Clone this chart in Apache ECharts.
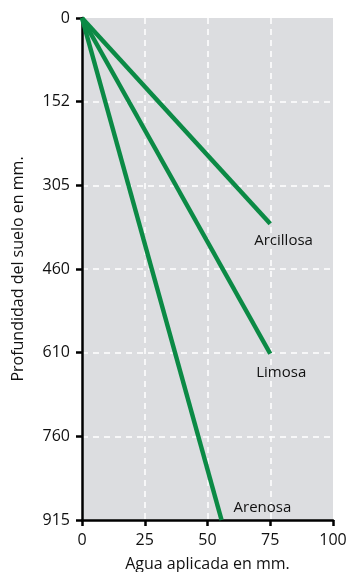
<!DOCTYPE html>
<html>
<head>
<meta charset="utf-8">
<script src="https://cdn.jsdelivr.net/npm/echarts@6/dist/echarts.min.js"></script>
<style>
  html, body { margin: 0; padding: 0; background: #fff; }
  #chart { width: 348px; height: 572px; }
</style>
</head>
<body>
<div id="chart"></div>
<script>
// datos
const seriesNames = ['Arcillosa', 'Limosa', 'Arenosa'];
const arcillosa = [[0, 0], [75, 375]];
const limosa = [[0, 0], [75, 612]];
const arenosa = [[0, 0], [55.6, 915]];
const yTickLabels = ['0', '152', '305', '460', '610', '760', '915'];

const green = '#0b8a45';
const font = '"Open Sans", "DejaVu Sans", sans-serif';

var myChart = echarts.init(document.getElementById('chart'));

function lineSeries(name, data, labelOffset) {
  return {
    name: name,
    type: 'line',
    data: data,
    symbol: 'none',
    lineStyle: { color: green, width: 4.5 },
    endLabel: {
      show: true,
      formatter: name,
      fontFamily: font,
      fontSize: 15,
      color: '#111',
      offset: labelOffset
    },
    labelLayout: { hideOverlap: false }
  };
}

var option = {
  animation: false,
  grid: {
    left: 82, right: 15, top: 18, bottom: 52,
    outerBoundsMode: 'none',
    show: true, backgroundColor: '#dcdde0', borderWidth: 0
  },
  xAxis: {
    type: 'value',
    position: 'bottom',
    min: 0, max: 100, interval: 25,
    name: 'Agua aplicada en mm.',
    nameLocation: 'middle',
    nameGap: 36,
    nameTextStyle: { fontFamily: font, fontSize: 16, color: '#111' },
    axisLine: { show: true, onZero: false, lineStyle: { color: '#000', width: 2.5 } },
    axisTick: { show: true, length: 6, lineStyle: { color: '#000', width: 2.5 } },
    axisLabel: { fontFamily: font, fontSize: 16, color: '#111', margin: 12 },
    splitLine: { show: true, showMinLine: false, showMaxLine: false, lineStyle: { color: '#fff', type: [6, 5], width: 1.5 } }
  },
  yAxis: {
    type: 'value',
    inverse: true,
    min: 0, max: 915, interval: 152.5,
    name: 'Profundidad del suelo en mm.',
    nameLocation: 'middle',
    nameGap: 56,
    nameTextStyle: { fontFamily: font, fontSize: 16, color: '#111' },
    axisLine: { show: true, onZero: false, lineStyle: { color: '#000', width: 2.5 } },
    axisTick: { show: true, length: 6, lineStyle: { color: '#000', width: 2.5 } },
    axisLabel: {
      fontFamily: font, fontSize: 16, color: '#111', margin: 12,
      formatter: function (v) { return yTickLabels[Math.round(v / 152.5)]; }
    },
    splitLine: { show: true, showMinLine: false, showMaxLine: false, lineStyle: { color: '#fff', type: [6, 5], width: 1.5 } }
  },
  series: [
    lineSeries(seriesNames[0], arcillosa, [-24, 17]),
    lineSeries(seriesNames[1], limosa, [-22, 19]),
    lineSeries(seriesNames[2], arenosa, [4, -12])
  ]
};
myChart.setOption(option);
</script>
</body>
</html>
